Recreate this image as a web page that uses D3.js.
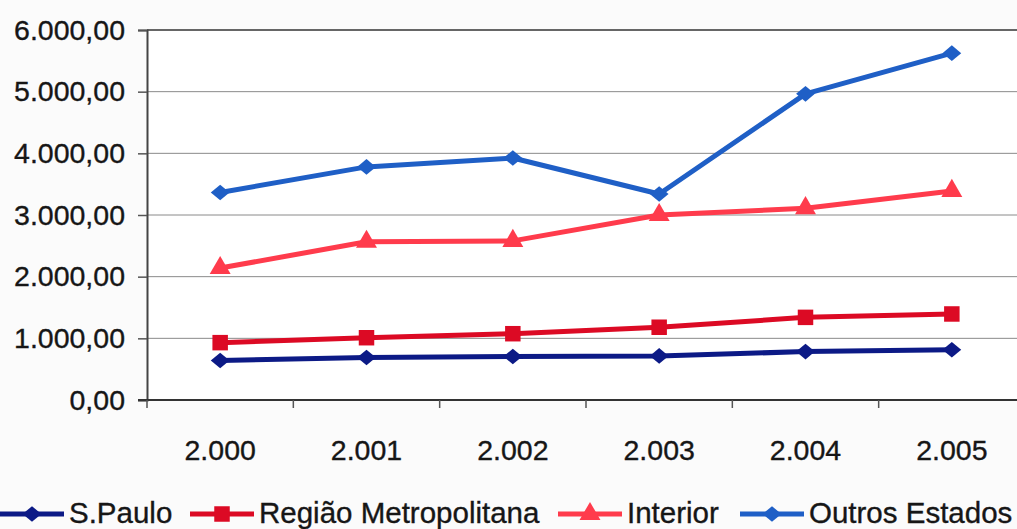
<!DOCTYPE html>
<html>
<head>
<meta charset="utf-8">
<script src="https://cdn.jsdelivr.net/npm/d3@7/dist/d3.min.js"></script>
<style>
  html, body { margin: 0; padding: 0; background: #fbfbfb; }
  svg { display: block; }
  text { font-family: "Liberation Sans", Arial, sans-serif; fill: #161616; }
</style>
</head>
<body>
<svg id="chart" width="1017" height="529"></svg>
<script>
// Anos (categorias) e séries
const years = ["2.000", "2.001", "2.002", "2.003", "2.004", "2.005"];
const yTicks = [0, 1000, 2000, 3000, 4000, 5000, 6000];

const saoPaulo        = [640, 690, 705, 715, 785, 815];
const regiaoMetro     = [930, 1010, 1075, 1180, 1340, 1395];
const interior        = [2140, 2565, 2580, 3000, 3110, 3390];
const outrosEstados   = [3365, 3780, 3925, 3340, 4965, 5625];

const seriesNames  = ["S.Paulo", "Região Metropolitana", "Interior", "Outros Estados"];
const seriesValues = [saoPaulo, regiaoMetro, interior, outrosEstados];
const seriesColors = ["#0c1a86", "#dc0a24", "#ff3b4c", "#1f5fc6"];

// wide diamond marker (a bit wider than tall)
const wideDiamond = {
  draw(ctx, size) {
    const w = Math.sqrt(size) * 0.72, h = Math.sqrt(size) * 0.6;
    ctx.moveTo(0, -h); ctx.lineTo(w, 0); ctx.lineTo(0, h); ctx.lineTo(-w, 0); ctx.closePath();
  }
};
const seriesShapes = [wideDiamond, d3.symbolSquare, d3.symbolTriangle, wideDiamond];
const shapeSizes   = [170, 240, 190, 170];

const svg = d3.select("#chart");
const W = 1017, H = 529;
const plot = { left: 147, right: 1025, top: 30, bottom: 400 };

const x = d3.scaleBand().domain(years).range([plot.left, plot.right]);
const y = d3.scaleLinear().domain([0, 6000]).range([plot.bottom, plot.top]);

const fmt = v => d3.format(",.2f")(v).replace(/,/g, "#").replace(/\./g, ",").replace(/#/g, ".");

// plot area
svg.append("rect")
  .attr("x", plot.left).attr("y", plot.top)
  .attr("width", W - plot.left).attr("height", plot.bottom - plot.top)
  .attr("fill", "#ffffff");

// horizontal gridlines
svg.append("g").selectAll("line")
  .data(yTicks.filter(t => t > 0))
  .join("line")
  .attr("x1", plot.left).attr("x2", W)
  .attr("y1", d => y(d)).attr("y2", d => y(d))
  .attr("stroke", d => d === 6000 ? "#666" : "#8a8a8a")
  .attr("stroke-width", d => d === 6000 ? 2 : 1);

const labelStyle = (sel, size = 28) => sel
  .attr("font-size", size).attr("fill", "#161616")
  .attr("stroke", "#161616").attr("stroke-width", 0.35)
  .style("font-family", "'Liberation Sans', Arial, sans-serif");

// y axis
const yAxis = svg.append("g")
  .attr("transform", `translate(${plot.left},0)`)
  .call(d3.axisLeft(y).tickValues(yTicks).tickFormat(fmt).tickSize(9).tickPadding(13));
yAxis.select(".domain").attr("stroke", "#444").attr("stroke-width", 2);
yAxis.selectAll(".tick line").attr("stroke", "#555").attr("stroke-width", 1.5);
yAxis.selectAll(".tick text").call(labelStyle, 28.5);

// x axis
const xAxis = svg.append("g")
  .attr("transform", `translate(0,${plot.bottom})`)
  .call(d3.axisBottom(x).tickSize(0).tickPadding(40));
xAxis.select(".domain").remove();
svg.append("line")
  .attr("x1", plot.left - 9).attr("x2", W)
  .attr("y1", plot.bottom).attr("y2", plot.bottom)
  .attr("stroke", "#333").attr("stroke-width", 2);
xAxis.selectAll(".tick text").call(labelStyle, 28.5);
// category boundary ticks
svg.append("g").selectAll("line")
  .data(years)
  .join("line")
  .attr("x1", d => x(d)).attr("x2", d => x(d))
  .attr("y1", plot.bottom).attr("y2", plot.bottom + 8)
  .attr("stroke", "#555").attr("stroke-width", 1.5);

// series lines and markers
const cx = d => x(d) + x.bandwidth() / 2;
const line = d3.line().x((v, i) => cx(years[i])).y(v => y(v));

seriesValues.forEach((vals, s) => {
  const g = svg.append("g");
  g.append("path")
    .datum(vals)
    .attr("d", line)
    .attr("fill", "none")
    .attr("stroke", seriesColors[s])
    .attr("stroke-width", 5)
    .attr("stroke-linejoin", "round");
  g.selectAll("path.m")
    .data(vals)
    .join("path")
    .attr("class", "m")
    .attr("transform", (v, i) => `translate(${cx(years[i])},${y(v)})`)
    .attr("d", d3.symbol().type(seriesShapes[s]).size(shapeSizes[s]))
    .attr("fill", seriesColors[s]);
});

// legend
const legendX = [0, 190, 558, 740];
const legend = svg.append("g").attr("transform", "translate(0,514)");
seriesNames.forEach((name, s) => {
  const g = legend.append("g").attr("transform", `translate(${legendX[s]},0)`);
  g.append("line")
    .attr("x1", 0).attr("x2", 64).attr("y1", 0).attr("y2", 0)
    .attr("stroke", seriesColors[s]).attr("stroke-width", 5);
  g.append("path")
    .attr("transform", "translate(32,0)")
    .attr("d", d3.symbol().type(seriesShapes[s]).size(shapeSizes[s]))
    .attr("fill", seriesColors[s]);
  g.append("text")
    .attr("x", 69).attr("y", 9)
    .call(labelStyle, 29.5)
    .text(name);
});
</script>
</body>
</html>
